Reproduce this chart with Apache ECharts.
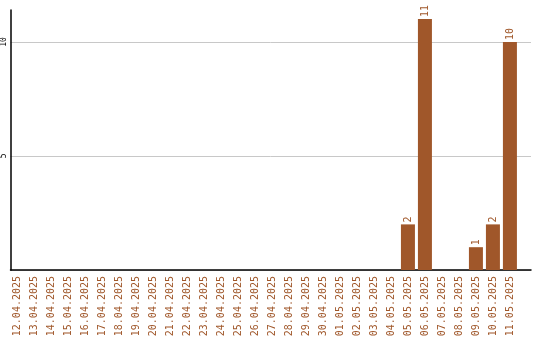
<!DOCTYPE html>
<html>
<head>
<meta charset="utf-8">
<script src="https://cdn.jsdelivr.net/npm/echarts@6/dist/echarts.min.js"></script>
<style>
  html, body { margin: 0; padding: 0; background: #fff; }
  #chart { width: 540px; height: 340px; }
</style>
</head>
<body>
<div id="chart"></div>
<script>
// Daily counts, 12.04.2025 – 11.05.2025
const dates = [
  '12.04.2025', '13.04.2025', '14.04.2025', '15.04.2025', '16.04.2025',
  '17.04.2025', '18.04.2025', '19.04.2025', '20.04.2025', '21.04.2025',
  '22.04.2025', '23.04.2025', '24.04.2025', '25.04.2025', '26.04.2025',
  '27.04.2025', '28.04.2025', '29.04.2025', '30.04.2025', '01.05.2025',
  '02.05.2025', '03.05.2025', '04.05.2025', '05.05.2025', '06.05.2025',
  '07.05.2025', '08.05.2025', '09.05.2025', '10.05.2025', '11.05.2025'
];
const counts = [
  0, 0, 0, 0, 0, 0, 0, 0, 0, 0,
  0, 0, 0, 0, 0, 0, 0, 0, 0, 0,
  0, 0, 0, 2, 11, 0, 0, 1, 2, 10
];
const yTicks = [5, 10];
const yGrid = [0, 5, 10];

const COLOR = '#a0572a';
const FONT = 'DejaVu Sans Mono';

const chart = echarts.init(document.getElementById('chart'), null, { renderer: 'canvas' });

const indices = dates.map((_, i) => i);

chart.setOption({
  animation: false,
  grid: { left: 10.5, right: 9, top: 10, bottom: 70, containLabel: false, outerBoundsMode: 'none' },
  xAxis: {
    type: 'value',
    min: -0.38,
    max: 30.24,
    axisLine: { show: true, onZero: false, lineStyle: { color: '#000', width: 1.5 } },
    axisTick: { show: false },
    splitLine: { show: false },
    axisLabel: {
      customValues: indices,
      formatter: v => dates[Math.round(v)] || '',
      rotate: 90,
      margin: 6,
      color: COLOR,
      fontFamily: FONT,
      fontSize: 10
    }
  },
  yAxis: {
    type: 'value',
    min: 0,
    max: 11.4,
    interval: 5,
    axisLine: { show: true, onZero: false, lineStyle: { color: '#000', width: 1.5 } },
    axisTick: { show: false, customValues: yGrid },
    splitLine: { show: true, lineStyle: { color: '#c8c8c8', width: 1 } },
    axisLabel: {
      customValues: yTicks,
      rotate: 90,
      margin: 3,
      color: '#000',
      fontFamily: FONT,
      fontSize: 8
    }
  },
  series: [{
    type: 'bar',
    barWidth: 14,
    data: counts.map((v, i) => [i, v]),
    itemStyle: { color: COLOR },
    label: {
      show: true,
      position: 'top',
      rotate: 90,
      align: 'left',
      verticalAlign: 'middle',
      distance: 2,
      color: COLOR,
      fontFamily: FONT,
      fontSize: 10,
      formatter: p => (p.value[1] ? String(p.value[1]) : '')
    }
  }]
});
</script>
</body>
</html>
